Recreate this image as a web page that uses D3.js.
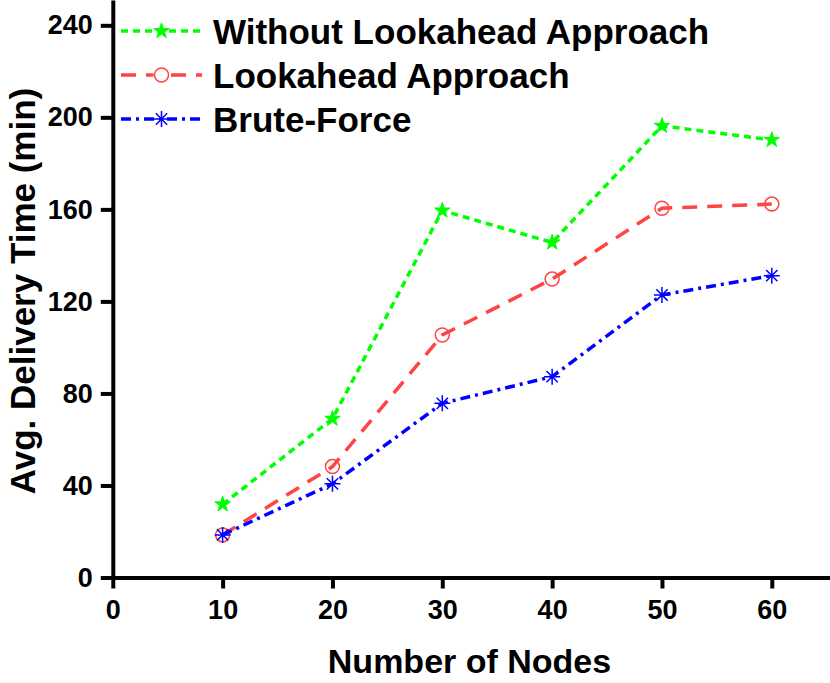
<!DOCTYPE html>
<html>
<head>
<meta charset="utf-8">
<script src="https://cdn.jsdelivr.net/npm/d3@7"></script>
<style>
  body { margin: 0; background: #fff; }
  svg text { font-family: "Liberation Sans", Arial, Helvetica, sans-serif; font-weight: bold; fill: #000; }
</style>
</head>
<body>
<div id="chart"></div>
<script>
const nodes = [10, 20, 30, 40, 50, 60];
const withoutLookahead = [31.8, 69, 159.5, 145.6, 196.3, 190.2];
const lookahead = [18.5, 48.2, 105.4, 129.7, 160.5, 162.3];
const bruteForce = [18.5, 40.7, 75.7, 87.3, 122.8, 131.2];
const xTicks = [0, 10, 20, 30, 40, 50, 60];
const yTicks = [0, 40, 80, 120, 160, 200, 240];

const series = [
  { name: "Without Lookahead Approach", values: withoutLookahead, color: "#00ff00", dash: "7,5", marker: "star" },
  { name: "Lookahead Approach", values: lookahead, color: "#ff4444", dash: "15,10", marker: "circle" },
  { name: "Brute-Force", values: bruteForce, color: "#0000ff", dash: "10,5,3,5", marker: "asterisk" },
];

const width = 830;
const height = 683;

const svg = d3
  .select("#chart")
  .append("svg")
  .attr("width", width)
  .attr("height", height);

const x = d3.scaleLinear().domain([0, 65.3]).range([112.8, 830]);
const y = d3.scaleLinear().domain([0, 251]).range([577.5, 0]);

const xAxis = d3.axisBottom(x).tickValues(xTicks).tickSize(11).tickSizeOuter(0).tickPadding(11.5);
const yAxis = d3.axisLeft(y).tickValues(yTicks).tickSize(12).tickSizeOuter(0).tickPadding(8);

const gx = svg.append("g").attr("transform", `translate(0, ${y(0)})`).call(xAxis);
const gy = svg.append("g").attr("transform", `translate(${x(0)}, 0)`).call(yAxis);

[gx, gy].forEach((g) => {
  g.select(".domain").attr("stroke", "#000").attr("stroke-width", 4);
  g.selectAll(".tick line").attr("stroke", "#000").attr("stroke-width", 4);
  g.selectAll(".tick text").style("font-size", "27px").attr("fill", "#000");
});

// axis titles
svg
  .append("text")
  .attr("x", 469.5)
  .attr("y", 672.5)
  .attr("text-anchor", "middle")
  .style("font-size", "34px")
  .text("Number of Nodes");

svg
  .append("text")
  .attr("transform", "translate(35, 291) rotate(-90)")
  .attr("text-anchor", "middle")
  .style("font-size", "35px")
  .text("Avg. Delivery Time (min)");

// markers
const starPath = d3.symbol(d3.symbolStar, 75)();
const asteriskPath = (() => {
  const r = 8;
  const d = r * Math.SQRT1_2;
  return `M${-r},0L${r},0M0,${-r}L0,${r}M${-d},${-d}L${d},${d}M${-d},${d}L${d},${-d}`;
})();

function drawMarker(g, type, color) {
  if (type === "star") {
    g.append("path").attr("d", starPath).attr("fill", color).attr("stroke", color).attr("stroke-width", 1);
  } else if (type === "circle") {
    g.append("circle").attr("r", 7).attr("fill", "none").attr("stroke", color).attr("stroke-width", 1.5);
  } else {
    g.append("path").attr("d", asteriskPath).attr("fill", "none").attr("stroke", color).attr("stroke-width", 1.5);
  }
}

const line = d3
  .line()
  .x((d) => x(d[0]))
  .y((d) => y(d[1]));

series.forEach((s) => {
  const pts = nodes.map((n, i) => [n, s.values[i]]);
  svg
    .append("path")
    .datum(pts)
    .attr("d", line)
    .attr("fill", "none")
    .attr("stroke", s.color)
    .attr("stroke-width", 3.5)
    .attr("stroke-dasharray", s.dash);

  pts.forEach((p) => {
    const g = svg.append("g").attr("transform", `translate(${x(p[0])}, ${y(p[1])})`);
    drawMarker(g, s.marker, s.color);
  });
});

// legend
const legend = svg.append("g");
series.forEach((s, i) => {
  const ly = 31 + i * 44;
  legend
    .append("line")
    .attr("x1", 121)
    .attr("x2", 202)
    .attr("y1", ly)
    .attr("y2", ly)
    .attr("stroke", s.color)
    .attr("stroke-width", 3.5)
    .attr("stroke-dasharray", s.dash);
  const g = legend.append("g").attr("transform", `translate(161.5, ${ly})`);
  if (s.marker === "circle") {
    g.append("rect").attr("x", -8).attr("y", -4).attr("width", 16).attr("height", 8).attr("fill", "#fff");
  }
  drawMarker(g, s.marker, s.color);
  legend
    .append("text")
    .attr("x", 213)
    .attr("y", ly)
    .attr("dy", "0.36em")
    .style("font-size", "35px")
    .text(s.name);
});
</script>
</body>
</html>
